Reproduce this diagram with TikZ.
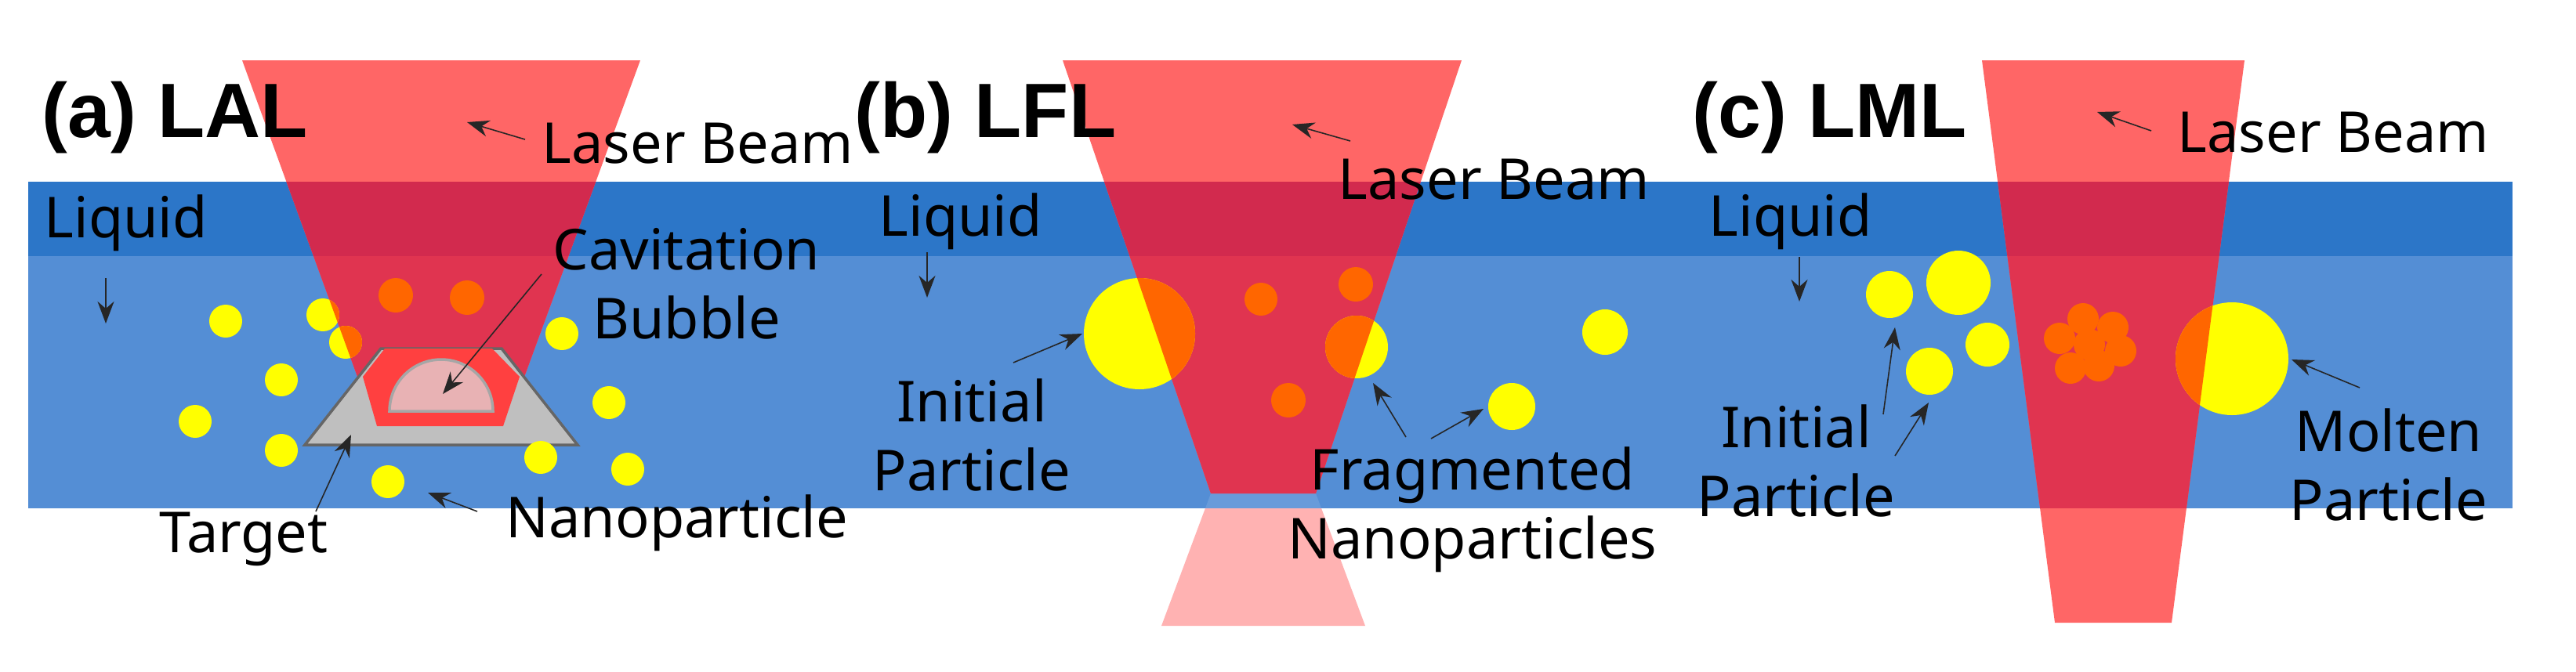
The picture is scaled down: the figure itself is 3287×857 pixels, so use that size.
\documentclass[tikz,border=0pt]{standalone}
\usepackage{fontspec}
\setmainfont{Noto Sans}
\newfontfamily\ttlfont{Liberation Sans}
\usetikzlibrary{arrows.meta}
\definecolor{bandD}{RGB}{44,118,200}
\definecolor{bandL}{RGB}{84,142,213}
\definecolor{beam}{RGB}{255,102,102}
\definecolor{beamD}{RGB}{210,42,78}
\definecolor{beamL}{RGB}{224,52,80}
\definecolor{ylw}{RGB}{255,255,0}
\definecolor{org}{RGB}{255,102,0}
\definecolor{pinkL}{RGB}{255,178,178}
\definecolor{hexred}{RGB}{255,64,64}
\definecolor{bub}{RGB}{232,178,180}
\definecolor{tgt}{RGB}{191,191,191}
\tikzset{
  lbl/.style={font=\fontsize{20.5}{25}\selectfont, inner sep=0pt, align=center},
  ttl/.style={font=\ttlfont\fontsize{28}{30}\selectfont\bfseries, inner sep=0pt, anchor=base west},
  arr/.style={draw=black!85, line width=0.45pt, -{Stealth[length=8pt,width=6pt]}},
}
\newcommand{\ypart}[3]{\fill[ylw] (#1,#2) circle (#3);}
\newcommand{\opart}[3]{\fill[org] (#1,#2) circle (#3);}
\begin{document}
\begin{tikzpicture}[x=0.01cm,y=-0.01cm]
\useasboundingbox (0,0) rectangle (3287,857);
% lower cone b (below band)
\fill[pinkL] (1545,630) -- (1679,630) -- (1742,799) -- (1482,799) -- cycle;
% band
\fill[bandL] (36,232) rectangle (3206,649);
\fill[bandD] (36,232) rectangle (3206,327);
\fill[white,opacity=0.12] (1545,630) -- (1679,630) -- (1686,649) -- (1538,649) -- cycle;
% beams
\def\beamA{(309,77) -- (817,77) -- (646,544) -- (479,544) -- cycle}
\def\beamB{(1356,77) -- (1865,77) -- (1679,630) -- (1545,630) -- cycle}
\def\beamC{(2529,77) -- (2864,77) -- (2771,795) -- (2622,795) -- cycle}
\foreach \bm in {\beamA,\beamB,\beamC}{
  \fill[beam] \bm;
  \begin{scope}\clip \bm; \fill[beamD] (0,232) rectangle (3287,327); \fill[beamL] (0,327) rectangle (3287,649);\end{scope}
}
% panel a target
\filldraw[fill=tgt, draw=black!60, line width=1pt] (389,568) -- (737,568) -- (640,445) -- (486,445) -- cycle;
\fill[hexred] (491,445) -- (628,445) -- (663,481) -- (642,544) -- (481,544) -- (463,481) -- cycle;
\filldraw[fill=bub, draw=black!35, line width=1pt] (497,525) arc[start angle=180,end angle=360,x radius=66,y radius=66] -- cycle;
% particles
\def\parts{%
\ypart{288}{410}{21}\ypart{412}{402}{21}\ypart{441}{437}{21}\ypart{717}{426}{21}
\ypart{359}{485}{21}\ypart{249}{538}{21}\ypart{777}{514}{21}\ypart{359}{575}{21}
\ypart{690}{584}{21}\ypart{801}{599}{21}\ypart{495}{615}{21}
\ypart{1454}{426}{71}\ypart{1731}{443}{40}\ypart{2048}{424}{29}\ypart{1929}{519}{30}
\ypart{2411}{376}{30}\ypart{2499}{361}{41}\ypart{2536}{440}{28}\ypart{2462}{474}{30}
\ypart{2848}{458}{72}}
\parts
\begin{scope}
\clip \beamA \beamB \beamC;
\let\ypart\opart
\parts
\end{scope}
\opart{505}{377}{22}\opart{596}{380}{22}
\opart{1609}{382}{21}\opart{1730}{363}{22}\opart{1644}{511}{22}
\foreach \px/\py in {2628/432,2658/407,2696/418,2706/448,2678/467,2642/470,2666/440}{\opart{\px}{\py}{20}}
% titles
\node[ttl] (ta) at (53,175) {(a) LAL};
\node[ttl] (tb) at (1090,175) {(b) LFL};
\node[ttl] (tc) at (2159,175) {(c) LML};
% panel a labels
\node[lbl, anchor=base west] (lba) at (691,208) {Laser Beam};
\node[lbl, anchor=base west] (lqa) at (56,303) {Liquid};
\node[lbl, anchor=base] (cav) at (876,432) {Cavitation\\Bubble};
\node[lbl, anchor=base west] (tg) at (203,705) {Target};
\node[lbl, anchor=base west] (np) at (645,686) {Nanoparticle};
\coordinate (a1s) at (670,178); \coordinate (a1e) at (596,156);
\coordinate (a2s) at (135,355); \coordinate (a2e) at (135,413);
\coordinate (a3s) at (691,350); \coordinate (a3e) at (565,503);
\coordinate (a4s) at (403,653); \coordinate (a4e) at (448,555);
\coordinate (a5s) at (609,653); \coordinate (a5e) at (546,629);
\foreach \s in {a1,a2,a3,a4,a5}{\draw[arr] (\s s) -- (\s e);}
% panel b labels
\node[lbl, anchor=base west] (lbb) at (1707,254) {Laser Beam};
\node[lbl, anchor=base west] (lqb) at (1121,301) {Liquid};
\node[lbl, anchor=base] (ipb) at (1240,626) {Initial\\Particle};
\node[lbl, anchor=base] (fnp) at (1879,713) {Fragmented\\Nanoparticles};
\coordinate (b1s) at (1723,180); \coordinate (b1e) at (1649,159);
\coordinate (b2s) at (1183,322); \coordinate (b2e) at (1183,380);
\coordinate (b3s) at (1293,463); \coordinate (b3e) at (1381,426);
\coordinate (b4s) at (1794,558); \coordinate (b4e) at (1752,489);
\coordinate (b5s) at (1826,560); \coordinate (b5e) at (1893,522);
\foreach \s in {b1,b2,b3,b4,b5}{\draw[arr] (\s s) -- (\s e);}
% panel c labels
\node[lbl, anchor=base west] (lbc) at (2778,194) {Laser Beam};
\node[lbl, anchor=base west] (lqc) at (2180,301) {Liquid};
\node[lbl, anchor=base] (ipc) at (2292,659) {Initial\\Particle};
\node[lbl, anchor=base] (mp) at (3048,664) {Molten\\Particle};
\coordinate (c1s) at (2745,167); \coordinate (c1e) at (2676,143);
\coordinate (c2s) at (2296,328); \coordinate (c2e) at (2296,385);
\coordinate (c3s) at (2403,529); \coordinate (c3e) at (2418,418);
\coordinate (c4s) at (2418,582); \coordinate (c4e) at (2461,514);
\coordinate (c5s) at (3011,495); \coordinate (c5e) at (2924,459);
\foreach \s in {c1,c2,c3,c4,c5}{\draw[arr] (\s s) -- (\s e);}
\end{tikzpicture}
\end{document}
